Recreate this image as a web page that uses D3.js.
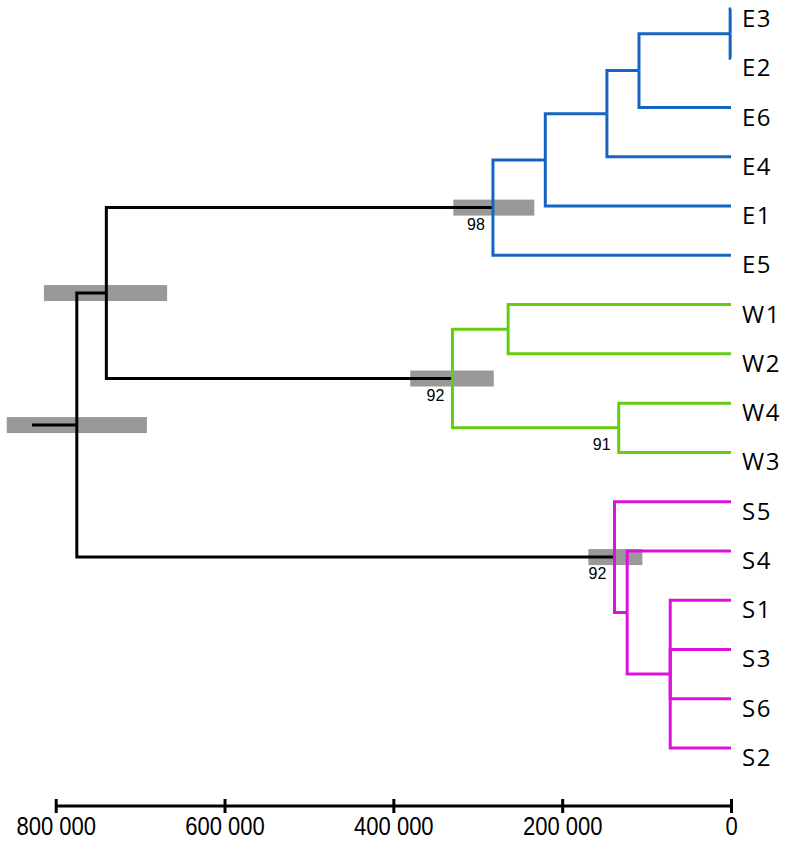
<!DOCTYPE html>
<html>
<head>
<meta charset="utf-8">
<script src="https://cdn.jsdelivr.net/npm/d3@7"></script>
<style>
  html, body { margin: 0; padding: 0; background: #fff; }
  svg { display: block; }
</style>
</head>
<body>
<svg id="chart" width="794" height="844"></svg>
<script>
// ---------- data ----------
const leafNames   = ["E3","E2","E6","E4","E1","E5","W1","W2","W4","W3","S5","S4","S1","S3","S6","S2"];
const leafParents = ["E_A","E_A","E_B","E_C","E_D","E","W12","W12","W43","W43","S","S_b","S_poly","S_poly","S_poly","S_poly"];

const nodeNames   = ["Root","EW","E","E_D","E_C","E_B","E_A","W","W12","W43","S","S_b","S_poly"];
const nodeParents = [null,"Root","EW","E","E_D","E_C","E_B","EW","W","W","Root","S","S_b"];
const nodeAges    = [775000, 740000, 282000, 220000, 147000, 109000, 1000, 330000, 264000, 133000, 138000, 123000, 72000];

const rootStubAge = 828000;

const cladeNodes  = ["E","W","S"];
const cladeColors = ["#1565c0","#66cc11","#dd11dd"];

const supportNodes  = ["E","W","W43","S"];
const supportValues = [98, 92, 91, 92];

const hpdNodes = ["Root","EW","E","W","S"];
const hpdLow   = [692000, 668000, 233000, 281000, 105000];
const hpdHigh  = [858000, 814000, 329000, 380000, 169000];

const axisTicks = [800000, 600000, 400000, 200000, 0];

// ---------- build tree ----------
const table = [];
nodeNames.forEach((n, i) => table.push({id: n, parent: nodeParents[i], age: nodeAges[i]}));
leafNames.forEach((n, i) => table.push({id: n, parent: leafParents[i], age: 0}));
const root = d3.stratify().id(d => d.id).parentId(d => d.parent)(table);

const svg = d3.select("#chart");
const x = d3.scaleLinear().domain([800000, 0]).range([55.7, 731]);
const yLeaf = d3.scalePoint().domain(leafNames).range([9, 748]);

root.eachAfter(n => {
  if (!n.children) n.y = yLeaf(n.id);
  else n.y = d3.mean(n.children, c => c.y);
  n.x = x(n.data.age);
});

// clade colour for each node (strictly inside a clade)
root.each(n => {
  n.color = "#000";
  let a = n.parent;
  while (a) {
    const k = cladeNodes.indexOf(a.id);
    if (k >= 0) { n.color = cladeColors[k]; break; }
    a = a.parent;
  }
});

// ---------- HPD bars ----------
const nodeById = new Map(root.descendants().map(n => [n.id, n]));
svg.append("g").selectAll("rect")
  .data(hpdNodes)
  .join("rect")
  .attr("x", (d, i) => x(hpdHigh[i]))
  .attr("width", (d, i) => x(hpdLow[i]) - x(hpdHigh[i]))
  .attr("y", d => nodeById.get(d).y - 8)
  .attr("height", 16)
  .attr("fill", "#999999");

// ---------- branches ----------
const links = root.links();
svg.append("g")
  .attr("fill", "none")
  .attr("stroke-width", 3)
  .selectAll("path")
  .data(links)
  .join("path")
  .attr("stroke", d => d.target.color)
  .attr("d", d => `M${d.source.x},${d.source.y}V${d.target.y}H${d.target.x}`);

// root stub
svg.append("path")
  .attr("fill", "none")
  .attr("stroke", "#000")
  .attr("stroke-width", 3)
  .attr("d", `M${x(rootStubAge)},${root.y}H${root.x}`);

// ---------- leaf labels ----------
svg.append("g").selectAll("text")
  .data(root.leaves())
  .join("text")
  .attr("x", 742)
  .attr("y", d => d.y + 18)
  .attr("font-family", "'Open Sans', 'Noto Sans', sans-serif")
  .attr("font-size", 24)
  .attr("letter-spacing", 1.5)
  .attr("fill", "#000")
  .text(d => d.id);

// ---------- support values ----------
svg.append("g").selectAll("text")
  .data(supportNodes)
  .join("text")
  .attr("x", d => nodeById.get(d).x - 17)
  .attr("y", d => nodeById.get(d).y + 22)
  .attr("text-anchor", "middle")
  .attr("font-family", "'Liberation Sans', Arial, sans-serif")
  .attr("font-size", 16)
  .attr("fill", "#000")
  .text((d, i) => supportValues[i]);

// ---------- axis ----------
const fmt = d3.formatLocale({decimal: ".", thousands: " ", grouping: [3], currency: ["", ""]}).format(",");
const axis = d3.axisBottom(x).tickValues(axisTicks).tickFormat(fmt).tickSize(7).tickPadding(8);
const gAxis = svg.append("g").attr("transform", "translate(0,806)").call(axis);
gAxis.select(".domain").remove();
gAxis.append("line")
  .attr("x1", x(800000)).attr("x2", x(0))
  .attr("stroke", "#000").attr("stroke-width", 3);
gAxis.selectAll(".tick line")
  .attr("y1", -7).attr("y2", 7)
  .attr("stroke", "#000").attr("stroke-width", 3);
gAxis.selectAll(".tick text")
  .attr("font-family", "'Liberation Sans', Arial, sans-serif")
  .attr("font-size", 25)
  .attr("fill", "#000")
  .attr("y", 11)
  .attr("dy", "0.71em")
  .attr("transform", "scale(0.88,1)");
</script>
</body>
</html>
